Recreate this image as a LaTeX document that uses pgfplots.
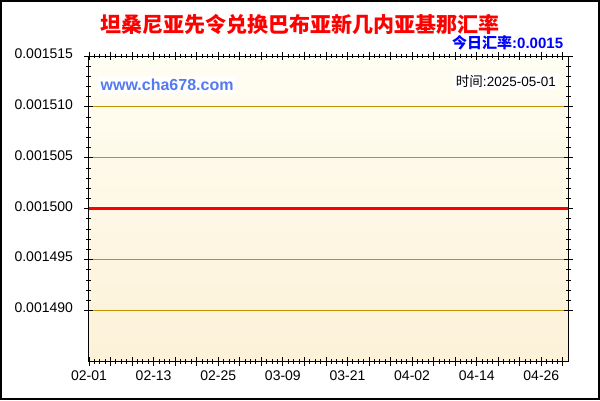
\documentclass[border=0pt]{standalone}
\usepackage{pgfplots}
\pgfplotsset{compat=1.18}
\usepackage{fontspec}
\setmainfont{Liberation Sans}
\newfontfamily\cjk{Noto Sans CJK SC}

\definecolor{gridgold}{RGB}{196,146,0}
\definecolor{bgtop}{RGB}{255,254,243}
\definecolor{bgbot}{RGB}{253,241,216}
\definecolor{wmblue}{RGB}{84,122,240}

\begin{document}
\begin{tikzpicture}
  \useasboundingbox (0,0) rectangle (600pt,400pt);
  \fill[white] (0,0) rectangle (600pt,400pt);
  \draw[black, line width=2pt] (1pt,1pt) rectangle (599pt,399pt);

  \begin{axis}[
    at={(89pt,38.5pt)}, anchor=south west,
    scale only axis,
    width=479.3pt, height=305.5pt,
    xmin=0, xmax=89,
    ymin=0.001485, ymax=0.001515,
    axis background/.style={top color=bgtop, bottom color=bgbot},
    axis line style={black, line width=1pt},
    tick style={black, line width=0.9pt},
    tick align=center,
    major tick length=9pt,
    minor tick length=5pt,
    xtick={0,4,...,88},
    xticklabels={02-01,,,02-13,,,02-25,,,03-09,,,03-21,,,04-02,,,04-14,,,04-26,,},
    minor x tick num=3,
    ytick={0.00149,0.001495,0.0015,0.001505,0.00151,0.001515},
    yticklabels={0.001490,0.001495,0.001500,0.001505,0.001510,0.001515},
    scaled y ticks=false,
    minor y tick num=4,
    ymajorgrids=true,
    grid style={gridgold, line width=1pt},
    ticklabel style={font=\fontsize{14}{16}\selectfont},
    yticklabel style={yshift=2.5pt, xshift=-8pt},
    xticklabel style={yshift=-1.5pt},
  ]
  \addplot[red, line width=3pt] coordinates {
    (0,0.0015)(4,0.0015)(8,0.0015)(12,0.0015)(16,0.0015)(20,0.0015)
    (24,0.0015)(28,0.0015)(32,0.0015)(36,0.0015)(40,0.0015)(44,0.0015)
    (48,0.0015)(52,0.0015)(56,0.0015)(60,0.0015)(64,0.0015)(68,0.0015)
    (72,0.0015)(76,0.0015)(80,0.0015)(84,0.0015)(89,0.0015)
  };
  \end{axis}

  % title and labels
  \node[text=red] at (300.4pt,375.5pt)
    {\cjk\bfseries\fontsize{21}{24}\selectfont 坦桑尼亚先令兑换巴布亚新几内亚基那汇率};
  \node[anchor=east, inner sep=0pt, text=blue] at (563.3pt,357.5pt)
    {\fontsize{15}{17}\selectfont{\cjk\bfseries 今日汇率}\textbf{:0.0015}};
  \node[anchor=west, fill=white, inner sep=2.5pt, text=wmblue] at (98pt,315pt)
    {\fontsize{16}{18}\selectfont\bfseries www.cha678.com};
  \node[anchor=east, fill=white, inner sep=2pt] at (558pt,319pt)
    {\fontsize{13.5}{16}\selectfont{\cjk 时间}:2025-05-01};
\end{tikzpicture}
\end{document}
